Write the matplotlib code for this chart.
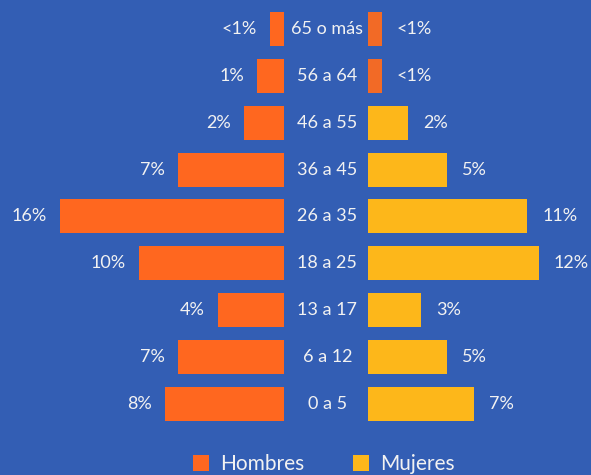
import matplotlib
matplotlib.use("Agg")
import matplotlib.pyplot as plt
from matplotlib.patches import Patch

# ---- data ----
age_groups = ["65 o más", "56 a 64", "46 a 55", "36 a 45", "26 a 35",
              "18 a 25", "13 a 17", "6 a 12", "0 a 5"]
hombres = [1.0, 1.93, 2.86, 7.57, 16.0, 10.36, 4.71, 7.57, 8.5]
mujeres = [1.0, 1.0, 2.86, 5.64, 11.36, 12.2, 3.79, 5.64, 7.57]
hombres_labels = ["<1%", "1%", "2%", "7%", "16%", "10%", "4%", "7%", "8%"]
mujeres_labels = ["<1%", "<1%", "2%", "5%", "11%", "12%", "3%", "5%", "7%"]
series_names = ["Hombres", "Mujeres"]

# ---- style ----
BG = "#335EB4"
ORANGE = "#FF671F"
ORANGE2 = "#F26A26"
YELLOW = "#FDB71A"
TXT = "#F2F2F2"
plt.rcParams["font.family"] = ["Lato", "DejaVu Sans"]

W, H, DPI = 591, 475, 100
fig = plt.figure(figsize=(W / DPI, H / DPI), dpi=DPI, facecolor=BG)
ax = fig.add_axes([0, 0, 1, 1], facecolor=BG)

PX = 14.0          # pixels per unit
CENTER = 326.0     # px
HALFGAP = 42.0 / PX
ax.set_xlim(-CENTER / PX, (W - CENTER) / PX)
ROW0, ROWSTEP = 29.0, 46.84
ax.set_ylim((H - ROW0) / ROWSTEP, -ROW0 / ROWSTEP)
ax.axis("off")

ys = list(range(len(age_groups)))
bar_h = 34.0 / ROWSTEP
right_colors = [ORANGE2, ORANGE2] + [YELLOW] * (len(age_groups) - 2)

ax.barh(ys, [-v for v in hombres], left=-HALFGAP, height=bar_h,
        color=ORANGE, linewidth=0)
ax.barh(ys, mujeres, left=HALFGAP, height=bar_h,
        color=right_colors, linewidth=0)

fs = 13
lab_off_l = 13.0 / PX
lab_off_r = 15.0 / PX
for y, g, hv, mv, hl, ml in zip(ys, age_groups, hombres, mujeres,
                                hombres_labels, mujeres_labels):
    ax.text(0.1, y, g, ha="center", va="center", color=TXT, fontsize=fs)
    ax.text(-HALFGAP - hv - lab_off_l, y, hl, ha="right", va="center",
            color=TXT, fontsize=fs)
    ax.text(HALFGAP + mv + lab_off_r, y, ml, ha="left", va="center",
            color=TXT, fontsize=fs)

handles = [Patch(facecolor=ORANGE, edgecolor="none"),
           Patch(facecolor=YELLOW, edgecolor="none")]
leg = fig.legend(handles, series_names, loc="center",
                 bbox_to_anchor=(324 / W, 1 - 464 / H), ncol=2,
                 frameon=False, fontsize=15, handlelength=0.78,
                 handleheight=0.78, handletextpad=0.55, columnspacing=2.3,
                 borderpad=0, borderaxespad=0)
for t in leg.get_texts():
    t.set_color(TXT)

fig.savefig("out.png", dpi=DPI, facecolor=BG)
